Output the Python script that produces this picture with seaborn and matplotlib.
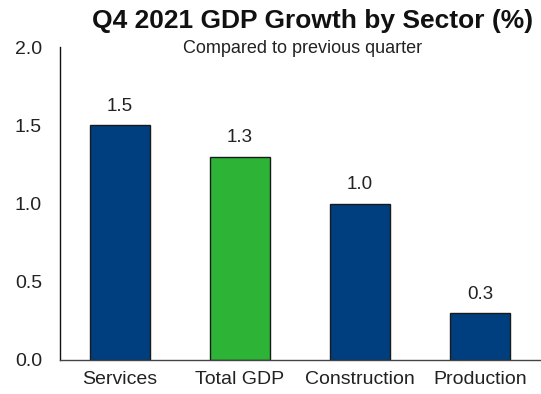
import matplotlib
matplotlib.use("Agg")
import matplotlib.pyplot as plt
import seaborn as sns
import pandas as pd

sectors = ["Services", "Total GDP", "Construction", "Production"]
growth = [1.5, 1.3, 1.0, 0.3]
bar_colors = ["#003F7F", "#2DB336", "#003F7F", "#003F7F"]

sns.set_theme(style="white")
plt.rcParams["font.family"] = ["Liberation Sans", "DejaVu Sans"]

df = pd.DataFrame({"sector": sectors, "growth": growth})

fig = plt.figure(figsize=(5.41, 3.94), dpi=100)
ax = fig.add_axes([60 / 541, 34 / 394, 480 / 541, 313 / 394])

sns.barplot(data=df, x="sector", y="growth", hue="sector", palette=bar_colors,
            saturation=1, legend=False, width=0.5, edgecolor="#1a1a1a",
            linewidth=1.0, ax=ax)

for i, v in enumerate(growth):
    ax.text(i, v + 0.09, f"{v:.1f}", ha="center", va="baseline", fontsize=13.5, color="#222222")

ax.set_ylim(0, 2.0)
ax.set_xlim(-0.5, 3.5)
ax.set_yticks([0, 0.5, 1.0, 1.5, 2.0])
ax.set_yticklabels([f"{t:.1f}" for t in [0, 0.5, 1.0, 1.5, 2.0]])
ax.set_xlabel("")
ax.set_ylabel("")
ax.tick_params(axis="both", labelsize=14, colors="#222222", length=0)
ax.tick_params(axis="y", pad=13)
ax.tick_params(axis="x", pad=8)

for side in ["top", "right"]:
    ax.spines[side].set_visible(False)
ax.spines["left"].set_color("#111111")
ax.spines["left"].set_linewidth(1.0)
ax.spines["bottom"].set_color("#444444")
ax.spines["bottom"].set_linewidth(1.0)

fig.text(313 / 541, 1 - 28 / 394, "Q4 2021 GDP Growth by Sector (%)", ha="center", va="baseline",
         fontsize=19, fontweight="bold", color="#111111")
fig.text(303 / 541, 1 - 53 / 394, "Compared to previous quarter", ha="center", va="baseline",
         fontsize=13, color="#222222")

fig.savefig("out.png", dpi=100)
